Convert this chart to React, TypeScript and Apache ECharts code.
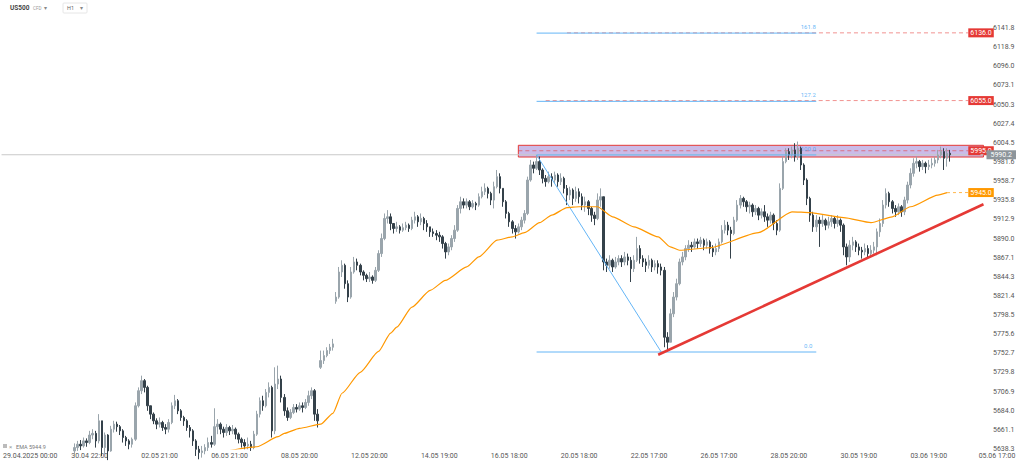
import React, { useEffect, useRef } from 'react';
import * as echarts from 'echarts';

const FONT = 'Roboto, "Noto Sans", sans-serif';
const TOTAL_BARS = 324;
const FIRST_BAR = 24;
const FIRST_OPEN = 5636;

// 2-hour candles (close / high / low), bar 24 .. bar 312
const closes = [
  5640,5644,5642,5648,5646,5655,5657,5648,5672,5640,5655,5636,
  5662,5668,5665,5660,5652,5648,5644,5650,
  5690,5708,5720,5712,5690,5680,5672,5668,5670,5664,5662,5670,
  5690,5696,5684,5676,5672,5664,5660,5648,5638,5634,5636,5640,
  5646,5644,5665,5668,5662,5658,5664,5660,5662,5656,5650,
  5646,5642,5644,5640,5656,5680,5696,5690,5706,5712,
  5660,5716,5722,5700,5684,5676,5682,5688,5686,5690,5688,5694,
  5702,5708,5680,5672,5744,5750,5756,5760,5764,
  5820,5850,5858,5836,5820,5850,5862,5858,5850,5846,5842,5844,5840,5852,5872,5890,
  5914,5916,5908,5902,5904,5900,5903,5906,5902,
  5912,5916,5910,5914,5908,5904,5898,5896,5894,5892,5884,5874,5880,
  5890,5900,5926,5934,5930,5934,5928,5932,5930,5940,5946,5950,5944,5936,5952,
  5964,5950,5934,5920,5910,5902,5898,5904,5912,5920,5960,5978,5974,5982,
  5972,5962,5958,5964,5960,5966,5958,5962,5950,5942,5948,5938,5946,5940,5930,5934,5926,5918,5914,5936,5940,
  5862,5858,5864,5856,5862,5866,5862,5868,5864,5854,5864,5878,5866,5862,5858,5864,5856,5860,5856,5852,
  5772,5766,5800,5820,5836,5862,5868,5878,5882,5880,5886,5884,5888,5882,5886,5878,5874,5878,
  5886,5900,5906,5900,5896,5912,5930,5938,5934,5928,5930,5922,5926,5918,5922,5916,5912,5918,5908,5900,
  5950,5982,5994,5990,5996,5988,5998,5978,5960,5938,5918,5904,
  5912,5908,5912,5906,5910,5914,5908,5912,5906,5880,5868,5882,5886,5880,5876,5874,5878,5872,5876,5880,
  5898,5908,5930,5944,5934,5926,5922,5928,5922,5936,5954,5968,5980,5982,5976,5980,5976,5978,5980,5984,5990,5994,5986,5992,5990.2,
];
const highs = [
  5645,5648,5649,5652,5651,5660,5662,5660,5680,5672,5658,5656,
  5666,5672,5671,5667,5662,5654,5650,5652,
  5694,5712,5726,5722,5714,5690,5682,5675,5676,5672,5668,5674,
  5694,5703,5698,5686,5678,5674,5667,5662,5650,5642,5642,5644,
  5652,5654,5687,5674,5670,5665,5668,5666,5667,5664,5658,
  5652,5650,5652,5648,5660,5684,5700,5702,5710,5718,
  5714,5736,5738,5726,5704,5688,5686,5692,5692,5694,5694,5698,
  5708,5712,5710,5686,5756,5756,5760,5764,5770,
  5826,5856,5864,5860,5840,5856,5868,5866,5860,5852,5848,5850,5846,5856,5876,5896,
  5920,5924,5920,5908,5910,5906,5908,5910,5908,
  5916,5922,5918,5920,5916,5912,5904,5902,5900,5898,5894,5886,5884,
  5894,5906,5930,5940,5938,5938,5936,5936,5934,5944,5952,5956,5952,5946,5958,
  5972,5968,5950,5936,5922,5912,5906,5908,5916,5924,5964,5984,5982,5990,
  5988,5974,5966,5970,5968,5970,5968,5968,5964,5954,5952,5950,5952,5950,5944,5940,5936,5928,5922,5944,5950,
  5940,5866,5870,5866,5868,5870,5870,5874,5872,5868,5870,5892,5882,5870,5866,5870,5866,5864,5864,5860,
  5856,5778,5806,5826,5842,5866,5874,5882,5888,5886,5890,5890,5892,5890,5890,5888,5882,5884,
  5890,5906,5912,5910,5904,5916,5936,5942,5940,5936,5934,5932,5930,5928,5926,5930,5920,5922,5920,5912,
  5956,5988,5998,5998,6000,6004,6006,6000,5980,5962,5940,5922,
  5918,5916,5918,5914,5916,5918,5916,5918,5914,5908,5884,5888,5892,5888,5884,5880,5884,5882,5882,5886,
  5902,5914,5936,5950,5946,5936,5930,5932,5930,5940,5958,5974,5986,5988,5984,5984,5982,5984,5986,5988,5996,6000,5998,5998,5996,
];
const lows = [
  5630,5636,5637,5640,5641,5644,5650,5640,5645,5630,5632,5625,
  5635,5658,5659,5655,5646,5642,5638,5640,
  5648,5688,5704,5706,5684,5674,5668,5662,5664,5660,5656,5658,
  5668,5686,5680,5672,5666,5660,5652,5642,5630,5626,5628,5632,
  5636,5640,5642,5656,5656,5652,5654,5655,5656,5650,5645,
  5640,5638,5638,5636,5638,5654,5676,5684,5688,5700,
  5652,5656,5710,5694,5678,5672,5674,5680,5682,5684,5682,5686,
  5690,5698,5672,5664,5734,5740,5748,5752,5756,
  5812,5818,5844,5830,5814,5818,5848,5852,5846,5840,5838,5838,5836,5838,5850,5868,
  5888,5908,5900,5896,5898,5896,5898,5900,5898,
  5900,5908,5904,5906,5900,5898,5892,5892,5888,5886,5878,5866,5870,
  5876,5886,5898,5920,5926,5926,5924,5926,5924,5928,5938,5942,5938,5930,5926,
  5950,5944,5928,5914,5904,5896,5890,5896,5900,5908,5918,5958,5968,5972,
  5966,5956,5952,5956,5952,5956,5952,5954,5944,5930,5936,5930,5934,5932,5924,5922,5918,5910,5906,5912,5928,
  5852,5850,5854,5850,5854,5858,5856,5858,5858,5838,5850,5862,5860,5856,5850,5854,5850,5852,5848,5846,
  5760,5755,5766,5796,5816,5834,5858,5864,5874,5874,5878,5878,5880,5876,5878,5872,5868,5870,
  5874,5884,5896,5894,5866,5894,5910,5926,5928,5922,5920,5916,5918,5912,5914,5910,5904,5908,5900,5894,
  5898,5948,5980,5984,5986,5982,5984,5972,5954,5930,5910,5898,
  5898,5880,5904,5900,5902,5904,5902,5904,5898,5870,5858,5862,5876,5874,5870,5866,5870,5866,5868,5872,
  5870,5892,5904,5926,5928,5920,5916,5918,5916,5918,5932,5950,5964,5974,5970,5972,5968,5972,5974,5976,5980,5986,5972,5976,5982,
];
// opening gaps (bar index -> open)
const gapOpens: Record<number, number> = { 105: 5736, 110: 5815 };

// EMA traced points [bar, value]
const emaPoints = [
  [72,5633],[74,5636],[81,5640],[84,5641],[91,5653],[93,5657],[98,5663],[105,5668],[109,5681],
  [112,5705],[118,5730],[124,5755],[128,5777],[130,5784],[135,5808],[141,5828],[146,5840],[153,5856],
  [157,5868],[163,5888],[168,5892],[172,5897],[177,5909],[181,5918],[186,5927],[190,5928],[196,5928],
  [201,5916],[208,5904],[216,5892],[220,5880],[223,5876],[233,5879],[249,5897],[260,5922],[266,5921],
  [277,5915],[286,5909],[293,5916],[299,5928],[308,5942],[311,5944.9],
];
const emaLast = 5944.9;
const lastPrice = 5990.2;

const fibLevels = [5754.3, 5990.0, 6054.1, 6135.7];
const fibLabels = ['0.0', '100.0', '127.2', '161.8'];
const fibSwing = [[176, 5990.0], [217, 5754.3]];
const trendLine = [[216, 5751], [323, 5931]];
const priceLevels = [6136.0, 6055.0, 5995.0];
const priceLevelStart = [186, 179, 170];
const zoneTop = 6001.5;
const zoneBottom = 5987.5;

const yMin = 5638.3;
const yMax = 6141.8;
const yTickLabels = ['5638.3','5661.1','5684.0','5706.9','5729.8','5752.7','5775.6','5798.5','5821.4','5844.3','5867.1','5890.0','5912.9','5935.8','5958.7','5981.6','6004.5','6027.4','6050.3','6073.1','6096.0','6118.9','6141.8'];
const xTickLabels = ['29.04.2025 00:00','30.04 22:00','02.05 21:00','06.05 21:00','08.05 20:00','12.05 20:00','14.05 19:00','16.05 18:00','20.05 18:00','22.05 17:00','26.05 17:00','28.05 20:00','30.05 19:00','03.06 19:00','05.06 17:00'];
const LABEL_FIRST_BAR = 29;
const LABEL_STEP = 23;

export default function App() {
  const ref = useRef<HTMLDivElement>(null);
  useEffect(() => {
    if (!ref.current) return;
    const chart = echarts.init(ref.current, undefined, { renderer: 'svg' });
    const cats = Array.from({ length: TOTAL_BARS }, (_, i) => String(i));
    const candles: any[] = [];
    for (let k = 0; k < TOTAL_BARS; k++) {
      const i = k - FIRST_BAR;
      if (i < 0 || i >= closes.length) { candles.push('-'); continue; }
      const c = closes[i];
      const o = gapOpens[k] ?? (i === 0 ? FIRST_OPEN : closes[i - 1]);
      const h = Math.max(highs[i], o, c);
      const l = Math.min(lows[i], o, c);
      candles.push([o, c, l, h]);
    }
    const interval = (yMax - yMin) / (yTickLabels.length - 1);
    const seg = (pts: any[], color: string, width: number, type: any = 'solid', extra: any = {}) => ({
      type: 'line', data: pts, symbol: 'none', silent: true, z: 3,
      lineStyle: { color, width, type }, ...extra,
    });
    const endLabel = (text: string, bg: string, dist = 0) => ({
      show: true, formatter: text, distance: dist, backgroundColor: bg, color: '#fff',
      fontSize: 7, fontFamily: FONT, padding: [1, 2, 1, 2],
    });
    const series: any[] = [];
    // current price line (behind everything)
    series.push(seg([[0, lastPrice], [TOTAL_BARS - 1, lastPrice]], '#c9c9c9', 1, 'solid', { z: 1 }));
    // zone + price levels
    priceLevels.forEach((lv, idx) => {
      const extra: any = { endLabel: endLabel(lv.toFixed(1), '#e53935') };
      if (idx === 2) {
        extra.markArea = {
          silent: true,
          itemStyle: { color: 'rgba(150,120,210,0.5)', borderColor: '#e53935', borderWidth: 1 },
          data: [[{ coord: [priceLevelStart[idx], zoneTop] }, { coord: [TOTAL_BARS - 1, zoneBottom] }]],
        };
        extra.z = 1;
      }
      series.push(seg([[priceLevelStart[idx], lv], [318, lv]], 'rgba(229,57,53,0.55)', 1, [4, 3], extra));
    });
    // fib
    fibLevels.forEach((lv) => series.push(seg([[176, lv], [268, lv]], '#64b5f6', 1)));
    series.push(seg(fibSwing, '#64b5f6', 1));
    series.push({
      type: 'scatter', symbolSize: 1, silent: true, z: 5,
      itemStyle: { color: 'transparent' },
      data: fibLevels.map((lv, i) => ({
        value: [268, lv],
        label: { show: true, formatter: fibLabels[i], position: 'top', offset: [-8, 2], fontSize: 6, color: '#42a5f5', fontFamily: FONT },
      })),
    });
    // EMA
    series.push(seg(emaPoints, '#ff9800', 1.2, 'solid', { smooth: 0.2, smoothMonotone: 'x', z: 4 }));
    series.push(seg([[311, emaLast], [318, 5945.0]], 'rgba(255,152,0,0.7)', 1, [3, 3], {
      endLabel: endLabel('5945.0', '#ff9800'),
    }));
    // trendline
    series.push(seg(trendLine, '#e53935', 2.6, 'solid', { z: 6 }));
    // candles
    series.push({
      type: 'candlestick', data: candles, barWidth: 2, clip: true, z: 2,
      itemStyle: { color: '#9aa5ac', color0: '#34414a', borderColor: '#9aa5ac', borderColor0: '#34414a', borderWidth: 1 },
    });
    // last price tag (on top)
    series.push(seg([[TOTAL_BARS - 2, lastPrice], [TOTAL_BARS - 1, lastPrice]], '#c9c9c9', 1, 'solid', {
      z: 9, endLabel: { ...endLabel(lastPrice.toFixed(1), '#8d959b', 3), padding: [1, 4, 1, 4] },
    }));

    chart.setOption({
      animation: false,
      backgroundColor: '#ffffff',
      textStyle: { fontFamily: FONT },
      grid: { left: 0, right: 39, top: 28, bottom: 15, containLabel: false },
      xAxis: {
        type: 'category', data: cats, boundaryGap: true,
        axisLine: { show: false }, axisTick: { show: false }, splitLine: { show: false },
        axisLabel: {
          interval: (i: number) => i >= LABEL_FIRST_BAR && (i - LABEL_FIRST_BAR) % LABEL_STEP === 0,
          formatter: (_v: string, i: number) => xTickLabels[1 + (i - LABEL_FIRST_BAR) / LABEL_STEP] || '',
          fontSize: 7, color: '#555', margin: 3, fontFamily: FONT,
        },
      },
      yAxis: {
        type: 'value', position: 'right', min: yMin, max: yMax, interval,
        axisLine: { show: false }, axisTick: { show: false }, splitLine: { show: false },
        axisLabel: {
          formatter: (v: number) => yTickLabels[Math.round((v - yMin) / interval)] ?? '',
          fontSize: 7, color: '#555', margin: 8, fontFamily: FONT,
        },
      },
      series,
      graphic: [
        { type: 'text', left: 3, top: 452, style: { text: xTickLabels[0], fontSize: 7, fill: '#555', fontFamily: FONT } },
        { type: 'text', x: 997, y: 456, style: { text: xTickLabels[14], fontSize: 7, fill: '#555', fontFamily: FONT, align: 'center', verticalAlign: 'middle' } },
        { type: 'text', x: 10, y: 4, style: { text: 'US500', fontSize: 6.5, fontWeight: 'bold', fill: '#444', fontFamily: FONT } },
        { type: 'text', x: 33, y: 6, style: { text: 'CFD', fontSize: 4.5, fill: '#999', fontFamily: FONT } },
        { type: 'text', x: 44, y: 4, style: { text: '▾', fontSize: 6, fill: '#888', fontFamily: FONT } },
        { type: 'rect', shape: { x: 63, y: 3, width: 24, height: 10, r: 1 }, style: { fill: '#fff', stroke: '#e6e6e6', lineWidth: 1 } },
        { type: 'text', x: 67, y: 5, style: { text: 'H1', fontSize: 5.5, fill: '#666', fontFamily: FONT } },
        { type: 'text', x: 80, y: 4, style: { text: '▾', fontSize: 6, fill: '#888', fontFamily: FONT } },
        { type: 'rect', shape: { x: 3, y: 444, width: 4, height: 4 }, style: { fill: '#bbb' } },
        { type: 'text', x: 9, y: 443, style: { text: '×', fontSize: 6, fill: '#999', fontFamily: FONT } },
        { type: 'text', x: 16, y: 444, style: { text: 'EMA ' + emaLast.toFixed(1), fontSize: 5.5, fill: '#777', fontFamily: FONT } },
      ],
    });
    return () => chart.dispose();
  }, []);
  return <div ref={ref} style={{ width: 1024, height: 464, position: 'fixed', left: 0, top: 0, background: '#fff' }} />;
}
